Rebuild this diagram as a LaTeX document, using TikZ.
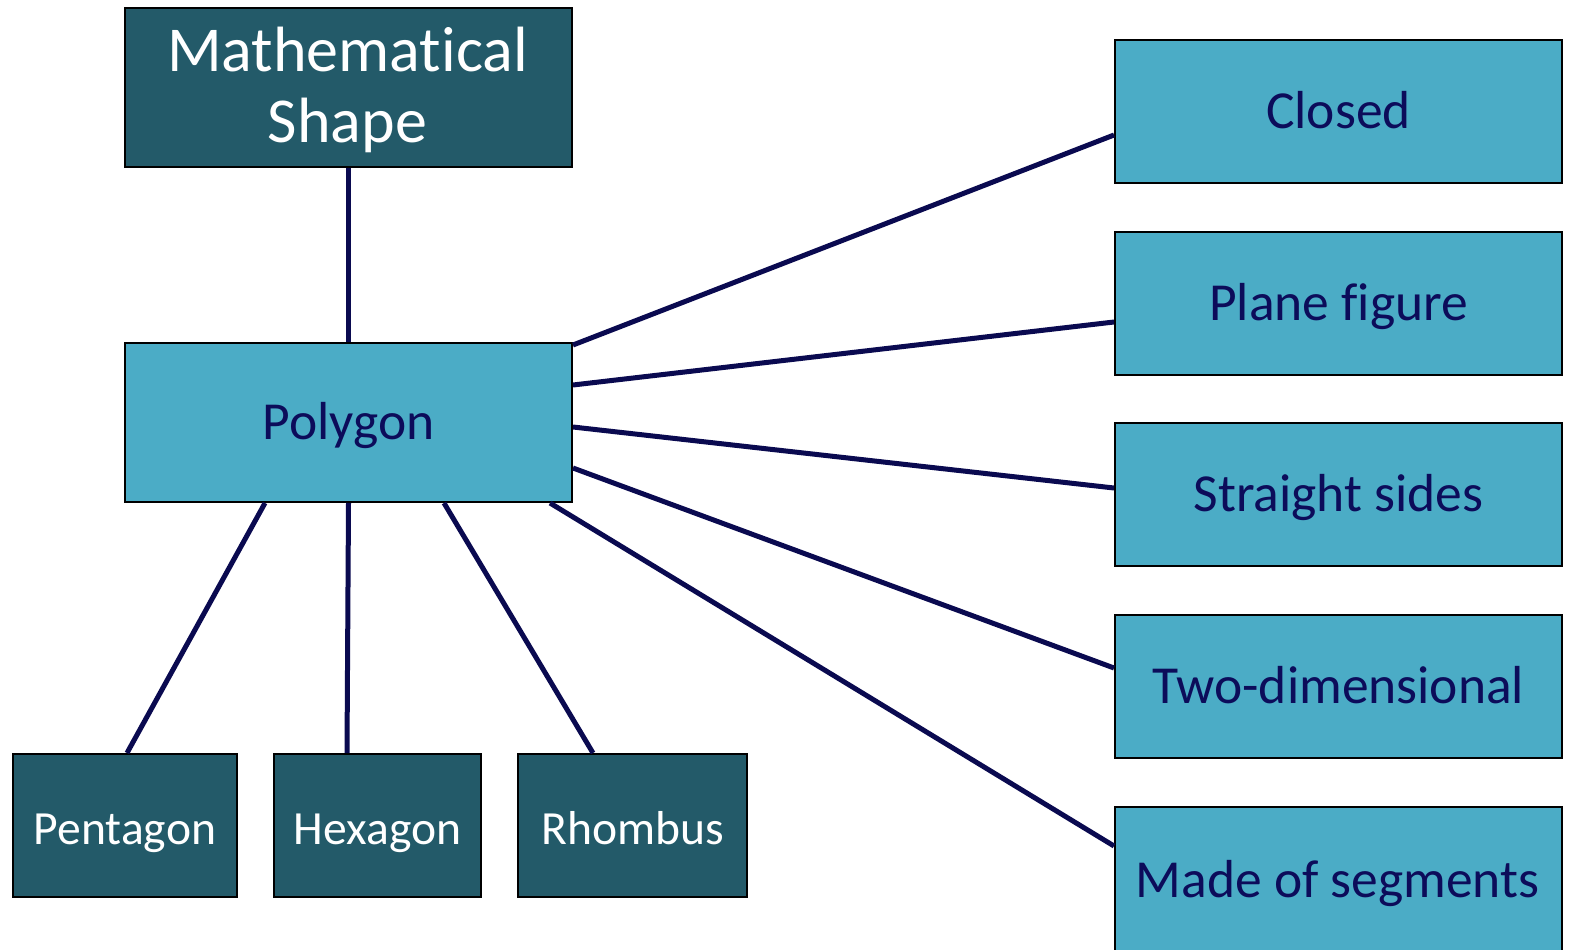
\documentclass[tikz,border=0pt]{standalone}
\usepackage{fontspec}
\setmainfont{Carlito}[Ligatures=CommonOff]
\definecolor{darkteal}{HTML}{235A69}
\definecolor{lightteal}{HTML}{4BACC6}
\definecolor{navytext}{HTML}{0C0C5A}
\definecolor{navyline}{HTML}{0A0A50}
\tikzset{
  box/.style={draw=black, line width=2pt, inner sep=0pt, anchor=north west, align=center},
  darkbox/.style={box, fill=darkteal, text=white},
  lightbox/.style={box, fill=lightteal, text=navytext},
  bigtext/.style={font=\fontsize{53.5}{62}\selectfont, text height=34.4pt, text depth=0pt},
  smalltext/.style={font=\fontsize{47.6}{56}\selectfont, text height=37.6pt, text depth=0pt},
  link/.style={draw=navyline, line width=5pt},
}
\begin{document}
\begin{tikzpicture}[x=1pt, y=-1pt]
\useasboundingbox (0,0) rectangle (1571,950);
% root and central concept
\node[darkbox, minimum width=447pt, minimum height=159pt] (math) at (124,7) {};
\node[text=white, align=center, font=\fontsize{64}{71}\selectfont, inner sep=0pt] (mathtext) at (347.5,90) {Mathematical\\Shape};
\node[lightbox, bigtext, minimum width=447pt, minimum height=159pt] (poly) at (124,342) {Polygon};
% examples
\tikzset{example/.style={darkbox, smalltext, minimum height=143pt}}
\node[example, minimum width=224pt] (pent) at (12,753) {Pentagon};
\node[example, minimum width=207pt] (hex) at (273,753) {Hexagon};
\node[example, minimum width=229pt] (rhomb) at (517,753) {Rhombus};
% properties
\tikzset{prop/.style={lightbox, bigtext, minimum width=447pt, minimum height=143pt}}
\node[prop] (closed) at (1114,39) {Closed};
\node[prop] (plane) at (1114,231) {Plane figure};
\node[prop] (straight) at (1114,422) {Straight sides};
\node[prop] (twod) at (1114,614) {Two-dimensional};
\node[prop, minimum height=150pt] (made) at (1114,806) {};
\node[bigtext, text=navytext, inner sep=0pt] (madetext) at (1337.5,880) {Made of segments};
% connectors
\draw[link] (math.south) -- (poly.north);
\draw[link] ([xshift=141pt]poly.south west) -- ([xshift=115pt]pent.north west);
\draw[link] (poly.south) -- ([xshift=74pt]hex.north west);
\draw[link] ([xshift=320pt]poly.south west) -- ([xshift=76pt]rhomb.north west);
\draw[link] ([yshift=-3pt]poly.north east) -- ([yshift=-96pt]closed.north west);
\draw[link] ([yshift=-43pt]poly.north east) -- ([yshift=-91pt]plane.north west);
\draw[link] ([yshift=-85pt]poly.north east) -- ([yshift=-66pt]straight.north west);
\draw[link] ([yshift=-126pt]poly.north east) -- ([yshift=-54pt]twod.north west);
\draw[link] ([xshift=-23pt]poly.south east) -- ([yshift=-40pt]made.north west);
\end{tikzpicture}
\end{document}
